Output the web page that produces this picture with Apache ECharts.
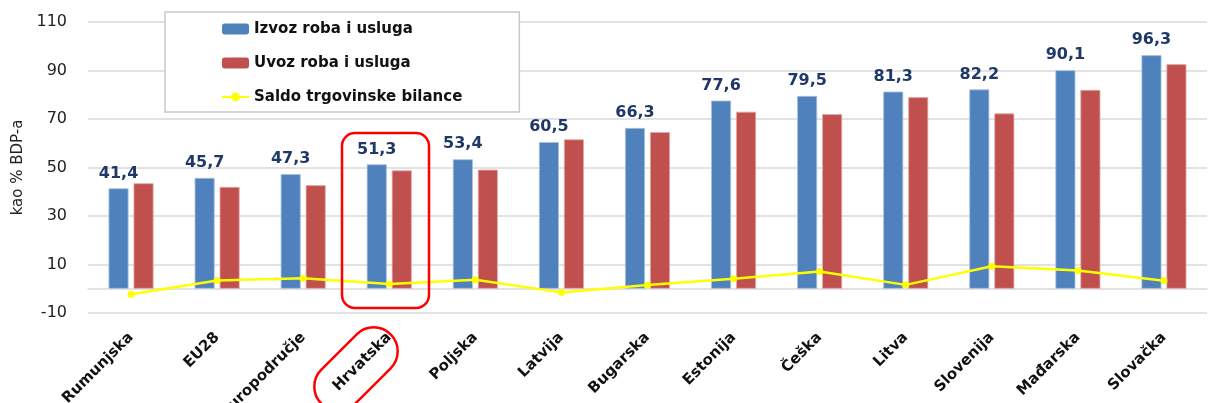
<!DOCTYPE html>
<html>
<head>
<meta charset="utf-8">
<script src="https://cdn.jsdelivr.net/npm/echarts@6/dist/echarts.min.js"></script>
<style>
* {
  padding: 0;
  margin: 0;
}
#chart {
  width: 1208px;
  height: 403px;
  background: #fff;
}
</style>
</head>
<body>
<div id="chart"></div>
<script>
var categories = ["Rumunjska", "EU28", "Europodručje", "Hrvatska", "Poljska", "Latvija", "Bugarska", "Estonija", "Češka", "Litva", "Slovenija", "Mađarska", "Slovačka"];
var izvoz = [41.4, 45.7, 47.3, 51.3, 53.4, 60.5, 66.3, 77.6, 79.5, 81.3, 82.2, 90.1, 96.3];
var uvoz = [43.5, 42.0, 42.7, 48.8, 49.1, 61.6, 64.6, 73.0, 72.0, 79.0, 72.3, 82.0, 92.6];
var saldo = [-2.3, 3.4, 4.3, 2.0, 3.7, -1.5, 1.5, 4.1, 7.1, 1.6, 9.3, 7.5, 3.3];
var yTicks = [-10, 10, 30, 50, 70, 90, 110];

var chart = echarts.init(document.getElementById("chart"));
chart.setOption({
  animation: false,
  grid: {
    left: 88,
    right: 1,
    top: 22,
    bottom: 90,
    containLabel: false,
    outerBoundsMode: "none",
  },
  legend: {
    orient: "vertical",
    left: 165,
    top: 12,
    padding: [7, 57, 5, 56],
    itemWidth: 27,
    itemHeight: 11,
    itemGap: 14,
    backgroundColor: "#fff",
    borderColor: "#c8c8c8",
    borderWidth: 1.5,
    itemStyle: { borderWidth: 0 },
    textStyle: {
      fontFamily: "DejaVu Sans",
      fontWeight: "bold",
      fontSize: 15,
      lineHeight: 20,
      color: "#111",
    },
    data: ["Izvoz roba i usluga", "Uvoz roba i usluga", "Saldo trgovinske bilance"],
  },
  xAxis: {
    type: "category",
    data: categories,
    axisLine: {
      onZero: true,
      lineStyle: { color: "#d9d9d9", width: 1.5 },
    },
    axisTick: { show: false },
    axisLabel: {
      interval: 0,
      rotate: 45,
      margin: 22,
      fontFamily: "DejaVu Sans",
      fontWeight: "bold",
      fontSize: 15,
      color: "#111",
    },
  },
  yAxis: {
    type: "value",
    min: -10,
    max: 110,
    interval: 10,
    name: "kao % BDP-a",
    nameLocation: "middle",
    nameGap: 62,
    nameTextStyle: {
      fontFamily: "DejaVu Sans",
      fontSize: 15,
      color: "#222",
    },
    axisLabel: {
      margin: 21,
      fontFamily: "DejaVu Sans",
      fontSize: 16,
      color: "#222",
      formatter: function (v) {
        return yTicks.indexOf(v) >= 0 ? String(v) : "";
      },
    },
    splitLine: {
      lineStyle: {
        color: ["#d9d9d9", "rgba(0,0,0,0)"],
        width: 1.5,
      },
    },
  },
  series: [
    {
      name: "Izvoz roba i usluga",
      type: "bar",
      data: izvoz,
      barWidth: 20,
      barGap: "25%",
      itemStyle: { color: "#4f81bd", borderColor: "#a9c1e0", borderWidth: 0.8 },
      label: {
        show: true,
        position: "top",
        distance: 7,
        fontFamily: "DejaVu Sans",
        fontWeight: "bold",
        fontSize: 16,
        color: "#1f3868",
        formatter: function (p) {
          return String(p.value).replace(".", ",");
        },
      },
    },
    {
      name: "Uvoz roba i usluga",
      type: "bar",
      data: uvoz,
      barWidth: 20,
      itemStyle: { color: "#c0504d", borderColor: "#e3a9a7", borderWidth: 0.8 },
    },
    {
      name: "Saldo trgovinske bilance",
      type: "line",
      data: saldo,
      symbol: "circle",
      symbolSize: 7,
      z: 5,
      lineStyle: { color: "#ffff00", width: 2.5 },
      itemStyle: { color: "#ffff00" },
    },
  ],
  graphic: [
    {
      type: "rect",
      shape: { x: 342, y: 133, width: 87, height: 175, r: 13 },
      style: { fill: "none", stroke: "#ff0000", lineWidth: 2.5 },
      z: 10,
    },
    {
      type: "rect",
      x: 356,
      y: 369,
      rotation: Math.PI / 4,
      shape: { x: -49, y: -24, width: 98, height: 48, r: 24 },
      style: { fill: "none", stroke: "#ff0000", lineWidth: 2.5 },
      z: 10,
    },
  ],
});
</script>
</body>
</html>
